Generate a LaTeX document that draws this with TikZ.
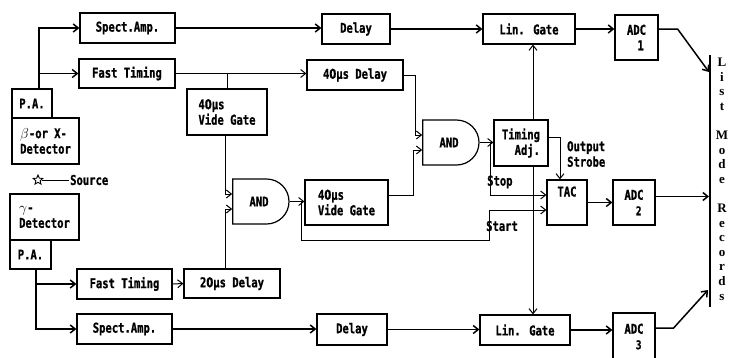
\documentclass[tikz,border=0pt]{standalone}
\usepackage{fontspec}
\usepackage{tikz}
\usetikzlibrary{arrows.meta,shapes.geometric,shapes.gates.logic.US}
\newfontfamily\blkfont{DejaVu Sans Mono}[FakeStretch=0.78,BoldFeatures={FakeBold=1}]
\newfontfamily\digfont{DejaVu Sans}[FakeStretch=0.74,BoldFeatures={FakeBold=1}]
\newfontfamily\lmrfont{Liberation Serif}
\newcommand\zr{{\digfont 0}}

\begin{document}
\begin{tikzpicture}[x=1pt,y=-1pt,
        >={Straight Barb[length=5pt,width=8pt]},
        txt/.style={font=\blkfont\bfseries\fontsize{13.5}{15.5}\selectfont},
        blk/.style={txt,draw,line width=1.2pt,inner sep=2pt},
        andg/.style={txt,shape=and gate US,draw,line width=1.2pt,logic gate inputs=nn,
            minimum width=42,minimum height=45,inner sep=0},
        lbl/.style={txt,inner sep=1pt},
        sig/.style={line width=1.5pt},
        lgc/.style={line width=1pt}]
        \useasboundingbox (0,0) rectangle (733,357);

        % Upper detector branch
        \node[blk,minimum width=95,minimum height=30] (spA) at (127.5,28) {Spect.Amp.};
        \node[blk,minimum width=96,minimum height=29] (ftA) at (127,73.5) {Fast Timing};
        \node[blk,minimum width=40,minimum height=29] (paA) at (32,103.5) {P.A.};
        \node[blk,minimum width=67,minimum height=46,align=left] (detA) at (45.5,141) {$\beta$-or X-\\Detector};
        \node[blk,minimum width=80,minimum height=46,align=left] (wgA) at (227,112) {4\zr μs\\Vide Gate};
        \node[blk,minimum width=68,minimum height=30] (dlA) at (356,29) {Delay};
        \node[blk,minimum width=96,minimum height=30] (d40) at (355,75) {4\zr μs Delay};
        \node[andg] (andA) at (449,142.5) {AND};
        \node[blk,minimum width=92,minimum height=30] (lgA) at (529,29) {Lin. Gate};
        \node[blk,minimum width=43,minimum height=45,align=right] (adc1) at (636.5,37.5) {ADC\\1\,};
        \node[blk,minimum width=54,minimum height=46,align=right] (tadj) at (521,143) {Timing\\Adj.};
        \node[blk,minimum width=40,minimum height=45,text depth=22pt] (tac) at (567,202.5) {TAC};
        \node[blk,minimum width=42,minimum height=45,align=right] (adc2) at (634,202.5) {ADC\\\large 2\,};

        % Source
        \node[star,star points=5,star point ratio=2.2,draw,line width=0.9pt,minimum size=10,inner sep=0] (src) at (38,180) {};
        \node[lbl,anchor=west] (srcL) at (69,180) {Source};
        \draw[lgc] (src) -- (srcL);

        % Lower detector branch
        \node[blk,minimum width=83,minimum height=45,align=left] (wgB) at (346.5,202.5) {4\zr μs\\Vide Gate};
        \node[andg] (andB) at (259,201.5) {AND};
        \node[blk,minimum width=69,minimum height=46,align=left] (detB) at (44.5,217) {$\gamma$-\\Detector};
        \node[blk,minimum width=41,minimum height=29] (paB) at (30.5,254.5) {P.A.};
        \node[blk,minimum width=95,minimum height=30] (ftB) at (124.5,284) {Fast Timing};
        \node[blk,minimum width=96,minimum height=29] (d20) at (232,283.5) {2\zr μs Delay};
        \node[blk,minimum width=95,minimum height=30] (spB) at (124.5,329) {Spect.Amp.};
        \node[blk,minimum width=70,minimum height=31] (dlB) at (352,329.5) {Delay};
        \node[blk,minimum width=90,minimum height=30] (lgB) at (525,330) {Lin. Gate};
        \node[blk,minimum width=42,minimum height=47,align=right] (adc3) at (634,336.5) {ADC\\\large 3\,};

        % Labels
        \node[lbl,anchor=west] (stopL) at (486,182) {Stop};
        \node[lbl,anchor=west] (startL) at (485,226) {Start};
        \node[lbl,anchor=west,align=left] (strobeL) at (566,154) {Output\\Strobe};

        % List mode records
        \node[font=\lmrfont\bfseries\fontsize{13}{14.6}\selectfont,align=center,inner sep=0] (lmr) at (722,179)
            {L\\i\\s\\t\\[14.6pt]M\\o\\d\\e\\[14.6pt]R\\e\\c\\o\\r\\d\\s};
        \coordinate (lmT) at (710,55);
        \coordinate (lmB) at (710,307);
        \draw[line width=1.5pt] (lmT) -- (lmB);
        \coordinate (in1) at (709,72);
        \coordinate (in2) at (709,196.5);
        \coordinate (in3) at (708,290);

        % Upper signal lines
        \coordinate (tapA) at ([xshift=7pt]paA.north);
        \draw[sig,->] (tapA) |- (spA.west);
        \draw[sig,->] (tapA |- ftA.west) -- (ftA.west);
        \draw[sig,->] (spA.east) -- (spA.east -| dlA.west);
        \draw[sig,->] (dlA.east) -- (dlA.east -| lgA.west);
        \draw[sig,->] (lgA.east) -- (lgA.east -| adc1.west);
        \draw[sig,->] (lgA.east -| adc1.east) -- ++(19,0) -- (in1);

        % Coincidence logic
        \draw[lgc,->] (ftA.east) -- (ftA.east -| d40.west);
        \draw[lgc] (ftA.east -| wgA.north) -- (wgA.north);
        \draw[lgc,->] (d40.east) -- ++(12,0) |- ([yshift=7.5pt]andA.west);
        \draw[lgc,->] ([yshift=7.5pt]wgB.east) -- ++(25,0) |- ([yshift=-7.5pt]andA.west);
        \draw[lgc,->] (andA.east) -- (andA.east -| tadj.west);
        \coordinate (stopTap) at ([xshift=11pt]andA.east);
        \draw[lgc,->] (stopTap) |- ([yshift=7.5pt]tac.west);
        \coordinate (tUp) at ([xshift=12pt]tadj.north);
        \coordinate (tDn) at ([xshift=12pt]tadj.south);
        \draw[lgc,->] (tUp) -- (tUp |- lgA.south);
        \draw[lgc,->] (tDn) -- (tDn |- lgB.north);
        \draw[lgc,->] ([yshift=6pt]tadj.east) -| ([xshift=-7pt]tac.north);
        \draw[sig,->] (tac.east) -- (adc2.west);
        \draw[sig,->] ([yshift=6pt]adc2.east) -- (in2);

        \draw[lgc,->] ([xshift=-2pt]wgA.south) |- ([yshift=7.5pt]andB.west);
        \draw[lgc,->] ([xshift=-7pt]d20.north) |- ([yshift=-7.5pt]andB.west);
        \draw[lgc,->] (andB.east) -- (andB.east -| wgB.west);
        \coordinate (startTap) at ([xshift=12pt]andB.east);
        \draw[lgc,->] (startTap) -- ++(0,38.5) -- ++(188,0) |- ([yshift=-7.5pt]tac.west);

        % Lower signal lines
        \coordinate (tapB) at ([xshift=5.5pt]paB.south);
        \draw[sig,->] (tapB) |- (spB.west);
        \draw[sig,->] (tapB |- ftB.west) -- (ftB.west);
        \draw[lgc,->] (ftB.east) -- (d20.west);
        \draw[sig,->] (spB.east) -- (spB.east -| dlB.west);
        \draw[sig,->] (dlB.east) -- (dlB.east -| lgB.west);
        \draw[sig,->] (lgB.east) -- (lgB.east -| adc3.west);
        \draw[sig,->] ([yshift=8.5pt]adc3.east) -- ++(18,0) -- (in3);
\end{tikzpicture}
\end{document}
